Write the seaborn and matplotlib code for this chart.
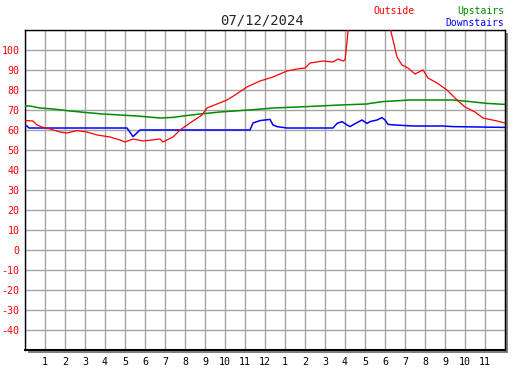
import numpy as np
import pandas as pd
import matplotlib
matplotlib.use("Agg")
import matplotlib.pyplot as plt
import seaborn as sns
from matplotlib.patches import Rectangle

# Data (hour of day, temperature)
outside_h = [0, 0.1, 0.4, 0.6, 0.85, 1.25, 1.75, 2.1, 2.6, 3.1, 3.6, 4.25, 4.75, 5.0, 5.4, 5.9,
             6.75, 6.9, 7.4, 7.75, 8.25, 8.85, 9.1, 10.1, 10.5, 11.1, 11.75, 12.4, 13.1, 13.6,
             14.0, 14.25, 14.9, 15.4, 15.65, 15.9, 16.0, 16.1, 16.3, 17.0, 17.8, 18.25, 18.4,
             18.6, 18.85, 19.15, 19.5, 19.9, 20.15, 20.6, 21.1, 21.6, 22.0, 22.5, 22.9, 23.6, 24.0]
outside_t = [64.5, 64.7, 64.5, 62.5, 61.5, 60.5, 59, 58.5, 59.7, 59, 57.5, 56.5, 55, 54, 55.5, 54.5,
             55.5, 54, 56.5, 60, 63.5, 67.5, 71, 75, 77.5, 81.5, 84.5, 86.5, 89.5, 90.5,
             91, 93.5, 94.5, 94, 95.5, 94.5, 95, 104, 125, 135, 130, 111, 105,
             96.5, 92.5, 91, 88, 90, 86, 83.5, 80, 75, 71.5, 69, 66, 64.5, 63.5]

upstairs_h = [0, 0.25, 0.75, 1.4, 2.25, 3.1, 3.9, 4.75, 5.6, 6.75, 7.4, 7.9, 8.75, 9.75, 10.75,
              11.6, 12.4, 14.1, 15.75, 17.1, 17.25, 17.9, 19.25, 21.4, 22.25, 23.1, 24.0]
upstairs_t = [72, 72, 71, 70.5, 69.5, 68.7, 68, 67.5, 67, 66, 66.3, 67, 68, 69, 69.7,
              70.3, 71, 71.7, 72.5, 73, 73.3, 74.2, 75, 75, 74.2, 73.3, 72.8]

downstairs_h = [0, 0.1, 0.2, 5.1, 5.4, 5.75, 11.25, 11.4, 11.75, 12.25, 12.4, 12.6, 13.1, 15.4,
                15.6, 15.85, 16.1, 16.25, 16.6, 16.85, 17.1, 17.25, 17.6, 17.85, 18.0, 18.15,
                18.5, 19.4, 20.9, 21.4, 24.0]
downstairs_t = [62, 62, 61, 61, 56.7, 60, 60, 63.5, 64.7, 65.3, 62.5, 61.7, 61, 61,
                63.3, 64.2, 62.5, 61.7, 63.7, 65, 63.3, 64.2, 65, 66.2, 65, 62.8,
                62.5, 62, 62, 61.7, 61.3]

hour_ticks = list(range(0, 25))
hour_labels = [""] + [str(h) for h in range(1, 12)] + ["12"] + [str(h) for h in range(1, 12)] + [""]
temp_ticks = list(range(-50, 111, 10))
temp_labels = ["" if t in (-50, 110) else str(t) for t in temp_ticks]

sns.set_style("white")
plt.rcParams['font.family'] = ['DejaVu Sans Mono', 'DejaVu Sans']

W, H = 527, 370
fig = plt.figure(figsize=(W / 100, H / 100), dpi=100)
ax = fig.add_axes([25 / W, 1 - 350 / H, 480 / W, 320 / H])

# drop shadow behind the plot box
fig.patches.append(Rectangle((28 / W, 1 - 353 / H), 480 / W, 320 / H, transform=fig.transFigure,
                             facecolor="#808080", edgecolor="none", zorder=-1))

sns.lineplot(x=upstairs_h, y=upstairs_t, ax=ax, color="#008c00", lw=1.1,
             estimator=None, sort=False, zorder=3)
sns.lineplot(x=downstairs_h, y=downstairs_t, ax=ax, color="#0000ff", lw=1.1,
             estimator=None, sort=False, zorder=4)
sns.lineplot(x=outside_h, y=outside_t, ax=ax, color="#ff0000", lw=0.9,
             estimator=None, sort=False, zorder=5)

ax.set_xlim(0, 24)
ax.set_ylim(-50, 110)
ax.set_xticks(hour_ticks)
ax.set_xticklabels(hour_labels, fontsize=7.2, color="black")
ax.set_yticks(temp_ticks)
ax.set_yticklabels(temp_labels, fontsize=7.2, color="red")
ax.tick_params(direction="in", length=5, width=1, color="black")
ax.tick_params(axis="y", pad=4)
ax.tick_params(axis="x", pad=5)
ax.grid(True, color="#a4a4a4", lw=1)
ax.set_axisbelow(True)
ax.set_xlabel("")
ax.set_ylabel("")
for s in ax.spines.values():
    s.set_color("black")
    s.set_linewidth(1)
ax.spines["bottom"].set_linewidth(1.5)

fig.text(262 / W, 1 - 20 / H, "07/12/2024", ha="center", va="center", fontsize=10)
fig.text(373 / W, 1 - 11.5 / H, "Outside", ha="left", va="center", fontsize=7, color="red")
fig.text(504 / W, 1 - 11.5 / H, "Upstairs", ha="right", va="center", fontsize=7, color="#008c00")
fig.text(504 / W, 1 - 23 / H, "Downstairs", ha="right", va="center", fontsize=7, color="#0000ff")

fig.savefig("out.png", dpi=100)
